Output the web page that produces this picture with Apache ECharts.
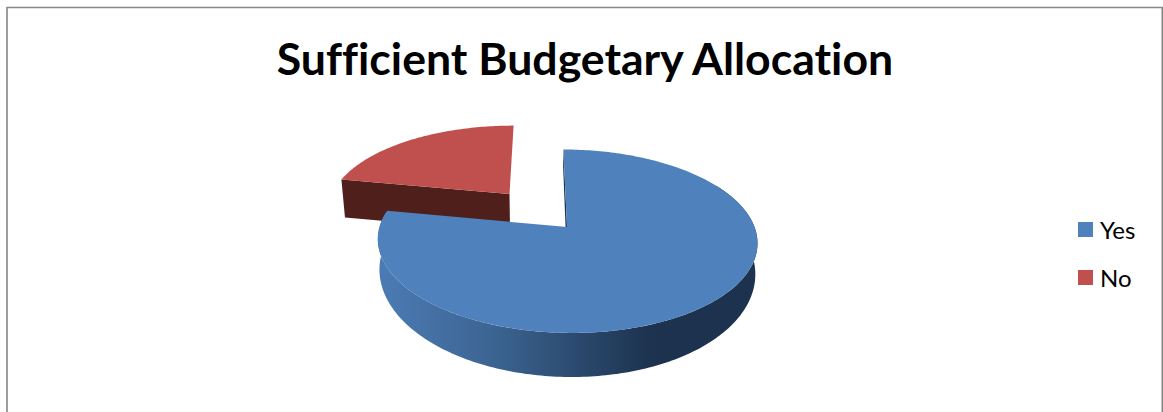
<!DOCTYPE html>
<html>
<head>
<meta charset="utf-8">
<style>html,body{margin:0;padding:0;background:#fff}#chart{width:1163px;height:412px}#chart text{font-variant-ligatures:none}</style>
<script src="https://cdn.jsdelivr.net/npm/echarts@6/dist/echarts.min.js"></script>
</head>
<body>
<div id="chart"></div>
<script>
const chartTitle = 'Sufficient Budgetary Allocation';
const categories = ['Yes', 'No'];
const shares = [78, 22];

// Camera used to fake the tilted 3D disc.
const vanishX = 540;
const perspective = 0.155;
// Part of the circle whose outer wall faces the viewer, in degrees clockwise from the top.
const wallFrom = 60;
const wallTo = 280;

// Per-slice geometry of the projected disc. The underside is seen less obliquely,
// so it has its own vertical radius.
const discs = {
  Yes: { ax: 567, ay: 227, rx: 187.5, ry: 89.5, ryLower: 102.5, depth: 28.7, shrink: 0.99 },
  No: { ax: 509.5, ay: 194, rx: 177, ry: 79, ryLower: 79, depth: 38, shrink: 0.982 }
};
const topColors = { Yes: '#4f81bd', No: '#c0504d' };
const faceColors = { Yes: '#1c324e', No: '#4f1f1c' };
const wallFill = {
  type: 'linear', x: 383, y: 0, x2: 752, y2: 0, global: true,
  colorStops: [
    { offset: 0, color: '#4b7ab3' },
    { offset: 0.3, color: '#3c6492' },
    { offset: 0.73, color: '#1c324e' },
    { offset: 1, color: '#1c324e' }
  ]
};

const total = shares.reduce((a, b) => a + b, 0);

// Map a polar position on the disc to the screen; lower=true gives the underside.
function project(d, deg, r, lower) {
  const t = deg * Math.PI / 180;
  const s = 1 / (1 + perspective * r * Math.cos(t));
  const k = lower ? d.shrink : 1;
  const x = vanishX + (d.ax - vanishX + d.rx * r * Math.sin(t)) * s * k;
  const dy = -(lower ? d.ryLower : d.ry) * r * Math.cos(t) * s;
  return [x, d.ay + dy + (lower ? d.depth : 0)];
}

function arc(d, from, to, lower) {
  const pts = [];
  const n = Math.max(2, Math.ceil(Math.abs(to - from)));
  for (let i = 0; i <= n; i++) pts.push(project(d, from + (to - from) * i / n, 1, lower));
  return pts;
}

function sliceRender(index) {
  return function (params, api) {
    const name = categories[index];
    const d = discs[name];
    const before = shares.slice(0, index).reduce((a, b) => a + b, 0);
    const a0 = before / total * 360;
    const a1 = a0 + api.value(0) / total * 360;
    const poly = (points, fill) => ({ type: 'polygon', shape: { points }, style: { fill }, silent: true });
    const children = [poly([
      project(d, a0, 1, false), project(d, a0, 0, false),
      project(d, a0, 0, true), project(d, a0, 1, true)
    ], faceColors[name])];
    const w0 = Math.max(a0, wallFrom);
    const w1 = Math.min(a1, wallTo);
    if (w1 > w0) {
      children.push(poly(arc(d, w0, w1, false).concat(arc(d, w1, w0, true)), wallFill));
    }
    children.push(poly(arc(d, a0, a1, false).concat([project(d, a0, 0, false)]), topColors[name]));
    return { type: 'group', children };
  };
}

const chart = echarts.init(document.getElementById('chart'), null, { renderer: 'svg' });
chart.setOption({
  animation: false,
  backgroundColor: '#fff',
  title: {
    text: chartTitle,
    left: 580,
    top: 30,
    textAlign: 'center',
    textStyle: { fontFamily: 'Lato', fontWeight: 'bold', fontSize: 44.6, color: '#000' }
  },
  legend: {
    orient: 'vertical',
    left: 1073,
    top: 207.5,
    data: categories,
    icon: 'rect',
    itemWidth: 15,
    itemHeight: 15,
    itemGap: 14,
    selectedMode: false,
    textStyle: { fontFamily: 'Lato', fontSize: 24, color: '#000', padding: [0, 0, 4, 2], lineHeight: 30 }
  },
  graphic: [{
    type: 'polyline',
    silent: true,
    shape: { points: [[7, 420], [7, 7.5], [1162.3, 7.5], [1162.3, 420]] },
    style: { stroke: '#868686', lineWidth: 1.6, fill: null }
  }],
  series: [1, 0].map(i => ({
    type: 'custom',
    name: categories[i],
    coordinateSystem: 'none',
    itemStyle: { color: topColors[categories[i]] },
    data: [[shares[i]]],
    renderItem: sliceRender(i)
  }))
});
</script>
</body>
</html>
